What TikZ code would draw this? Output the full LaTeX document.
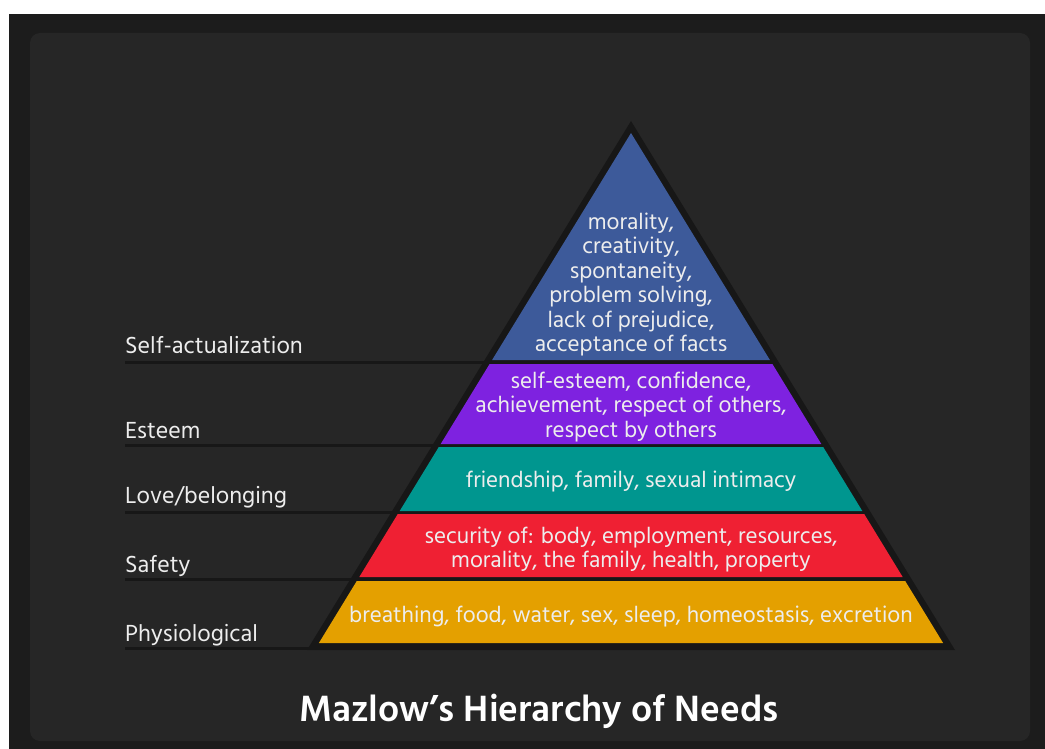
\documentclass[tikz,border=0pt]{standalone}
\usepackage{fontspec}
\setmainfont{Hind Madurai}
\definecolor{outerbg}{HTML}{1C1C1C}
\definecolor{innerbg}{HTML}{262626}
\definecolor{edge}{HTML}{171717}
\definecolor{lblue}{HTML}{3D5A9A}
\definecolor{lpurple}{HTML}{7E22E0}
\definecolor{lteal}{HTML}{00968F}
\definecolor{lred}{HTML}{EF2033}
\definecolor{lorange}{HTML}{E4A000}
\definecolor{txt}{HTML}{EDEDED}
\tikzset{
  layertext/.style={text=txt, align=center, font=\fontsize{23}{24.4}\selectfont, inner sep=0pt},
  sidelabel/.style={text=txt, anchor=base west, font=\fontsize{23.9}{26}\selectfont, inner sep=0pt},
  underline/.style={draw=edge, line width=3pt},
}
\begin{document}
\begin{tikzpicture}[x=1pt,y=-1pt]
\useasboundingbox (0,0) rectangle (1045,749);
\fill[white] (0,0) rectangle (1045,749);
\fill[outerbg] (9,14) rectangle (1045,749);
\fill[innerbg, rounded corners=10pt] (30,33) rectangle (1030,741);
% label underlines
\foreach \y/\n in {362/a,445.5/b,512/c,579/d,648/e}{
  \coordinate (u\n) at (125,\y);
  \coordinate (v\n) at (631,\y);
  \draw[underline] (u\n) -- (v\n);
}
% pyramid outline
\fill[edge] (631,121) -- (955,650) -- (307,650) -- cycle;
% layers
\fill[lblue]   (631,133) -- (769.9,360) -- (492.1,360) -- cycle;
\fill[lpurple] (489.6,364) -- (772.4,364) -- (821.3,444) -- (440.7,444) -- cycle;
\fill[lteal]   (438.8,447) -- (823.2,447) -- (862.3,511) -- (399.7,511) -- cycle;
\fill[lred]    (397.8,514) -- (864.2,514) -- (902.7,577) -- (359.3,577) -- cycle;
\fill[lorange] (356.8,581) -- (905.2,581) -- (943.1,643) -- (318.9,643) -- cycle;
% layer texts
\node[layertext] (t1) at (631,284.5) {morality,\\creativity,\\spontaneity,\\problem solving,\\lack of prejudice,\\acceptance of facts};
\node[layertext] (t2) at (631,407) {self-esteem, confidence,\\achievement, respect of others,\\respect by others};
\node[layertext] (t3) at (631,481.5) {friendship, family, sexual intimacy};
\node[layertext] (t4) at (631,549.5) {security of: body, employment, resources,\\morality, the family, health, property};
\node[layertext] (t5) at (631,617) {breathing, food, water, sex, sleep, homeostasis, excretion};
% side labels
\node[sidelabel] (l1) at (125,353) {Self-actualization};
\node[sidelabel] (l2) at (125,438) {Esteem};
\node[sidelabel] (l3) at (125,503) {Love/belonging};
\node[sidelabel] (l4) at (125,572) {Safety};
\node[sidelabel] (l5) at (125,641) {Physiological};
% title
\node[text=white, anchor=base, inner sep=0pt, font=\bfseries\fontsize{37.5}{40}\selectfont] (title) at (539,721) {Mazlow’s Hierarchy of Needs};
\end{tikzpicture}
\end{document}
